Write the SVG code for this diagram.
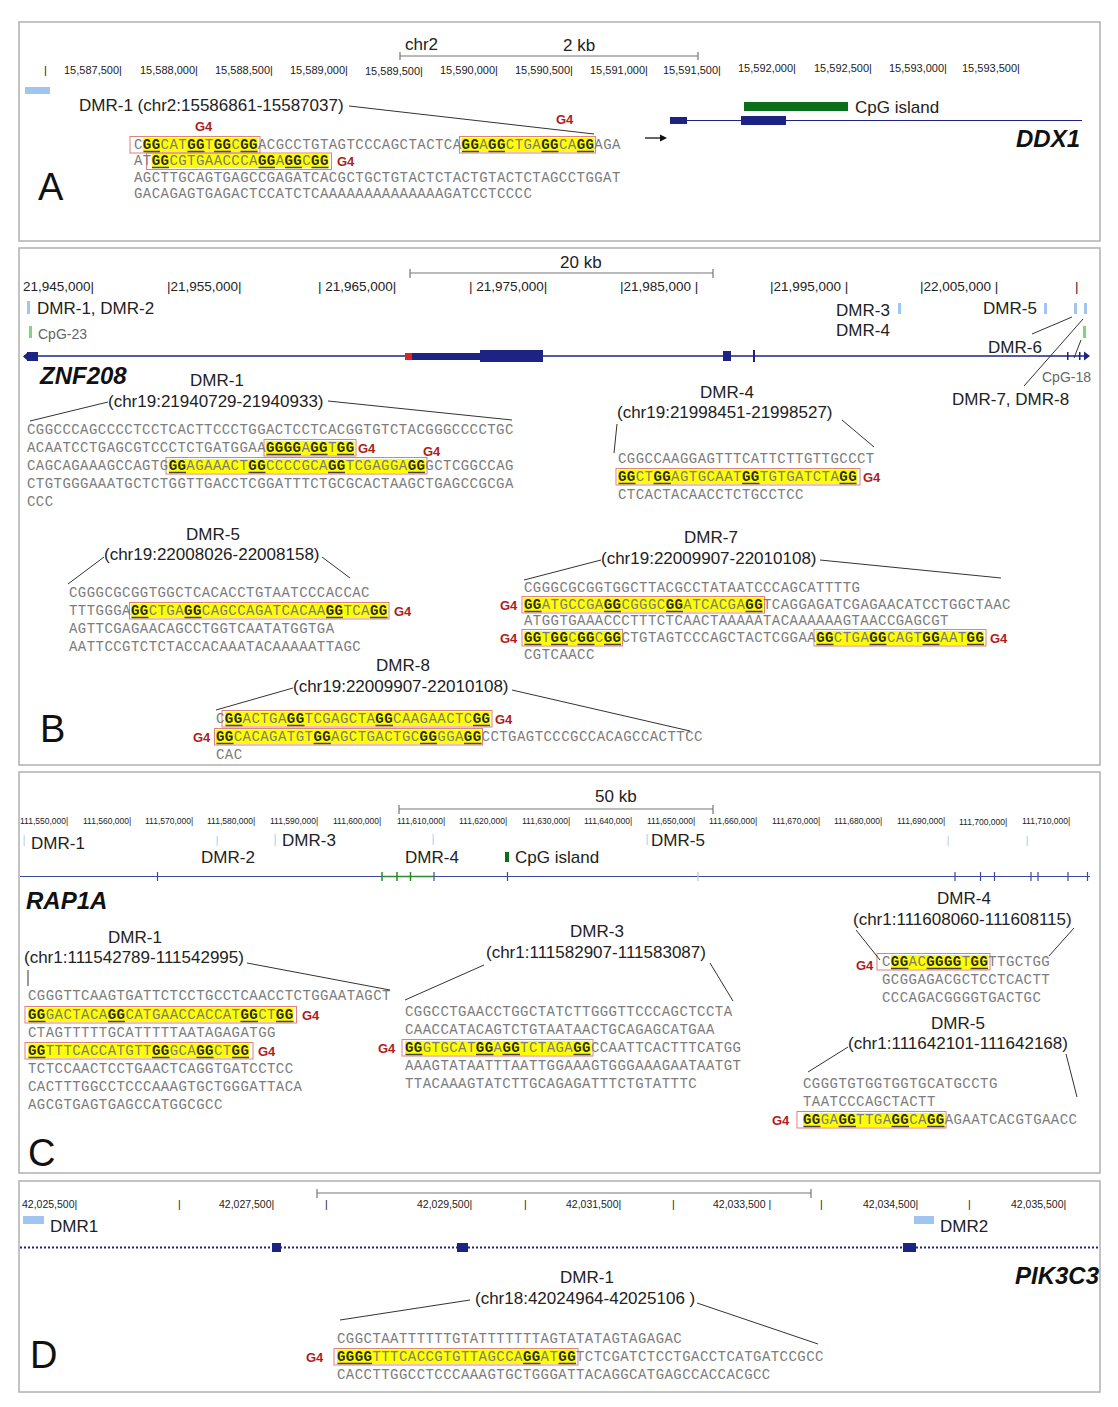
<svg xmlns="http://www.w3.org/2000/svg" width="1118" height="1407" viewBox="0 0 1118 1407">
<style>
.s{font-family:"Liberation Mono","DejaVu Sans Mono",monospace;font-size:14px;letter-spacing:0.45px;fill:#7c7c7c}
.g{font-weight:bold;fill:#2a2a2a}
.hl{fill:#ffff00}
.bx{fill:none;stroke:#e08080;stroke-width:1}
.ul{stroke:#444;stroke-width:1.6;fill:none}
.g4{font-family:"Liberation Sans",Arial,sans-serif;font-weight:bold;font-size:13px;fill:#b01c1c}
.lb{font-family:"Liberation Sans",Arial,sans-serif;font-size:17px;fill:#222}
.sm{font-family:"Liberation Sans",Arial,sans-serif;font-size:14px;fill:#666}
.big{font-family:"Liberation Sans",Arial,sans-serif;font-size:38px;fill:#111}
.gn{font-family:"Liberation Sans",Arial,sans-serif;font-size:24px;font-weight:bold;font-style:italic;fill:#111}
.ru{font-family:"Liberation Sans",Arial,sans-serif;fill:#222}
.ct{stroke:#333;stroke-width:1;fill:none}
.pn{fill:#fff;stroke:#b0b0b0;stroke-width:1.5}
.sb{stroke:#777;stroke-width:1.2;fill:none}
.nv{fill:#1c2383}
.lbt{fill:#9fc5f0}
</style>
<rect width="1118" height="1407" fill="#fff"/>

<!-- ===== Panel A ===== -->
<g id="panelA">
<rect class="pn" x="19" y="22" width="1081" height="219"/>
<text class="lb" x="405" y="50">chr2</text>
<text class="lb" x="563" y="51">2 kb</text>
<path class="sb" d="M400 56H698M400 52V60M698 52V60"/>
<g class="ru" font-size="11">
<text x="44" y="74">|</text>
<text x="64" y="74">15,587,500|</text>
<text x="140" y="74">15,588,000|</text>
<text x="215" y="74">15,588,500|</text>
<text x="290" y="74">15,589,000|</text>
<text x="365" y="75">15,589,500|</text>
<text x="440" y="74">15,590,000|</text>
<text x="515" y="74">15,590,500|</text>
<text x="590" y="74">15,591,000|</text>
<text x="663" y="74">15,591,500|</text>
<text x="738" y="72">15,592,000|</text>
<text x="814" y="72">15,592,500|</text>
<text x="889" y="72">15,593,000|</text>
<text x="962" y="72">15,593,500|</text>
</g>
<rect class="lbt" x="25" y="87" width="25" height="7"/>
<text class="lb" x="79" y="111">DMR-1 (chr2:15586861-15587037)</text>
<text class="big" x="38" y="200">A</text>
</g>

<g id="geneA">
<path d="M645 138H662" stroke="#111" stroke-width="1.3"/>
<path d="M660 134.5L667 138L660 141.5Z" fill="#111"/>
<path d="M670 120.5H1082" stroke="#1c2383" stroke-width="1.2"/>
<rect class="nv" x="670" y="117" width="17" height="7"/>
<rect class="nv" x="741" y="116" width="45" height="9"/>
<path d="M780 116L787 120.5L780 125Z" fill="#1c2383"/>
<rect x="744" y="102" width="104" height="9" fill="#0b6e1a"/>
<text class="lb" x="855" y="113">CpG island</text>
<text class="gn" x="1016" y="147">DDX1</text>
</g>

<g id="seqA">
<rect class="hl" x="142.85" y="138" width="115.05" height="14"/>
<rect class="hl" x="461.45" y="138" width="132.75" height="14"/>
<rect class="hl" x="151.7" y="154" width="177" height="14"/>
<rect class="bx" x="130" y="136.5" width="130" height="16.5"/>
<rect class="bx" x="459.5" y="136.5" width="136" height="16.5"/>
<rect class="bx" x="146.5" y="153" width="185" height="16.5"/>
<path class="ul" d="M143.5 151.5H160M187.5 151.5H204.5M214 151.5H231M240.5 151.5H257.5M462 151.5H479M488.5 151.5H505M541.5 151.5H558.5M577 151.5H594"/>
<path class="ul" d="M152 167.5H169M258.5 167.5H275M285 167.5H302M311.5 167.5H328.5"/>
<text class="s" x="134" y="149">C<tspan class="g">GG</tspan>CAT<tspan class="g">GG</tspan>T<tspan class="g">GG</tspan>C<tspan class="g">GG</tspan>ACGCCTGTAGTCCCAGCTACTCA<tspan class="g">GG</tspan>A<tspan class="g">GG</tspan>CTGA<tspan class="g">GG</tspan>CA<tspan class="g">GG</tspan>AGA</text>
<text class="s" x="134" y="165">AT<tspan class="g">GG</tspan>CGTGAACCCA<tspan class="g">GG</tspan>A<tspan class="g">GG</tspan>C<tspan class="g">GG</tspan></text>
<text class="s" x="134" y="182">AGCTTGCAGTGAGCCGAGATCACGCTGCTGTACTCTACTGTACTCTAGCCTGGAT</text>
<text class="s" x="134" y="198">GACAGAGTGAGACTCCATCTCAAAAAAAAAAAAAAGATCCTCCCC</text>
<text class="g4" x="195" y="131">G4</text>
<text class="g4" x="556" y="124">G4</text>
<text class="g4" x="337" y="166">G4</text>
</g>

<!-- ===== Panel B ===== -->
<g id="panelB">
<rect class="pn" x="19" y="248" width="1081" height="517"/>
<text class="lb" x="560" y="268">20 kb</text>
<path class="sb" d="M410 273H713M410 269V278M713 269V278"/>
<g class="ru" font-size="13.5">
<text x="23" y="291">21,945,000|</text>
<text x="167" y="291">|21,955,000|</text>
<text x="318" y="291">| 21,965,000|</text>
<text x="469" y="291">| 21,975,000|</text>
<text x="620" y="291">|21,985,000 |</text>
<text x="770" y="291">|21,995,000 |</text>
<text x="920" y="291">|22,005,000 |</text>
<text x="1075" y="291">|</text>
</g>
<rect class="lbt" x="27" y="301" width="3" height="13"/>
<rect class="lbt" x="898" y="303" width="3" height="11"/>
<rect class="lbt" x="1044" y="303" width="3" height="11"/>
<rect class="lbt" x="1074" y="303" width="3" height="11"/>
<rect class="lbt" x="1084" y="303" width="3" height="11"/>
<rect x="29" y="326" width="3" height="12" fill="#7fd67f"/>
<rect x="1083" y="326" width="3" height="12" fill="#7fd67f"/>
<text class="lb" x="37" y="314">DMR-1, DMR-2</text>
<text class="sm" x="38" y="339">CpG-23</text>
<text class="lb" x="836" y="316">DMR-3</text>
<text class="lb" x="836" y="336">DMR-4</text>
<text class="lb" x="983" y="314">DMR-5</text>
<text class="lb" x="988" y="353">DMR-6</text>
<text class="sm" x="1042" y="382">CpG-18</text>
<text class="lb" x="952" y="405">DMR-7, DMR-8</text>
<text class="big" x="40" y="742">B</text>
</g>

<g id="geneB">
<path d="M24 356H1086" stroke="#1c2383" stroke-width="1.5"/>
<rect class="nv" x="27" y="352" width="11" height="9"/>
<path d="M28 352L23 356.5L28 361Z" fill="#1c2383"/>
<rect x="405" y="353" width="7" height="7" fill="#e02020"/>
<rect class="nv" x="412" y="353" width="68" height="7"/>
<rect class="nv" x="480" y="350" width="63" height="12"/>
<rect class="nv" x="723" y="351" width="8" height="10"/>
<rect class="nv" x="753" y="350" width="2" height="12"/>
<rect class="nv" x="1067" y="352" width="1.5" height="8"/>
<rect class="nv" x="1079" y="352" width="1.5" height="8"/>
<path d="M1084 351.5L1090 356L1084 360.5Z" fill="#1c2383"/>
<text class="gn" x="40" y="384">ZNF208</text>
</g>

<g id="dmrB1">
<text class="lb" x="217" y="386" text-anchor="middle">DMR-1</text>
<text class="lb" x="108" y="407">(chr19:21940729-21940933)</text>
<rect class="hl" x="265.95" y="441" width="88.5" height="14"/>
<rect class="hl" x="168.6" y="459" width="256.65" height="14"/>
<rect class="bx" x="264" y="439.5" width="92" height="16.5"/>
<rect class="bx" x="166" y="457.5" width="261" height="16.5"/>
<path class="ul" d="M266.5 454.5H301M310.5 454.5H327.5M337 454.5H354"/>
<path class="ul" d="M169 472.5H186M248.5 472.5H265.5M328 472.5H345M408 472.5H425"/>
<text class="s" x="27" y="434">CGGCCCAGCCCCTCCTCACTTCCCTGGACTCCTCACGGTGTCTACGGGCCCCTGC</text>
<text class="s" x="27" y="452">ACAATCCTGAGCGTCCCTCTGATGGAA<tspan class="g">GGGG</tspan>A<tspan class="g">GG</tspan>T<tspan class="g">GG</tspan></text>
<text class="s" x="27" y="470">CAGCAGAAAGCCAGTG<tspan class="g">GG</tspan>AGAAACT<tspan class="g">GG</tspan>CCCCGCA<tspan class="g">GG</tspan>TCGAGGA<tspan class="g">GG</tspan>GCTCGGCCAG</text>
<text class="s" x="27" y="488">CTGTGGGAAATGCTCTGGTTGACCTCGGATTTCTGCGCACTAAGCTGAGCCGCGA</text>
<text class="s" x="27" y="506">CCC</text>
<text class="g4" x="358" y="453">G4</text>
<text class="g4" x="423" y="456">G4</text>
</g>

<g id="dmrB4">
<text class="lb" x="727" y="398" text-anchor="middle">DMR-4</text>
<text class="lb" x="617" y="418">(chr19:21998451-21998527)</text>
<rect class="hl" x="618" y="470" width="238.95" height="14"/>
<rect class="bx" x="616" y="468.5" width="244" height="16.5"/>
<path class="ul" d="M618.5 483.5H635.5M653.5 483.5H671M742 483.5H759.5M839.5 483.5H856.5"/>
<text class="s" x="618" y="463">CGGCCAAGGAGTTTCATTCTTGTTGCCCT</text>
<text class="s" x="618" y="481"><tspan class="g">GG</tspan>CT<tspan class="g">GG</tspan>AGTGCAAT<tspan class="g">GG</tspan>TGTGATCTA<tspan class="g">GG</tspan></text>
<text class="s" x="618" y="499">CTCACTACAACCTCTGCCTCC</text>
<text class="g4" x="863" y="482">G4</text>
</g>

<g id="dmrB5">
<text class="lb" x="213" y="540" text-anchor="middle">DMR-5</text>
<text class="lb" x="104" y="560">(chr19:22008026-22008158)</text>
<rect class="hl" x="130.95" y="604" width="256.65" height="14"/>
<rect class="bx" x="129.5" y="602.5" width="259.5" height="16.5"/>
<path class="ul" d="M131.5 617.5H148.5M184.5 617.5H201.5M326 617.5H343M370 617.5H387.5"/>
<text class="s" x="69" y="597">CGGGCGCGGTGGCTCACACCTGTAATCCCACCAC</text>
<text class="s" x="69" y="615">TTTGGGA<tspan class="g">GG</tspan>CTGA<tspan class="g">GG</tspan>CAGCCAGATCACAA<tspan class="g">GG</tspan>TCA<tspan class="g">GG</tspan></text>
<text class="s" x="69" y="633">AGTTCGAGAACAGCCTGGTCAATATGGTGA</text>
<text class="s" x="69" y="651">AATTCCGTCTCTACCACAAATACAAAAATTAGC</text>
<text class="g4" x="394" y="616">G4</text>
</g>

<g id="dmrB7">
<text class="lb" x="711" y="543" text-anchor="middle">DMR-7</text>
<text class="lb" x="601" y="564">(chr19:22009907-22010108)</text>
<rect class="hl" x="524" y="598" width="238.95" height="14"/>
<rect class="hl" x="524" y="631" width="97.35" height="14"/>
<rect class="hl" x="816.05" y="631" width="168.15" height="14"/>
<rect class="bx" x="522" y="596.5" width="242.5" height="16.5"/>
<rect class="bx" x="522" y="629.5" width="100.5" height="16.5"/>
<rect class="bx" x="814" y="629.5" width="172" height="16.5"/>
<path class="ul" d="M524.5 611.5H541.5M604 611.5H621M666 611.5H683M745.5 611.5H762.5"/>
<path class="ul" d="M524.5 644.5H541.5M551 644.5H568M577.5 644.5H594.5M604 644.5H621M816.5 644.5H833.5M869.5 644.5H886.5M922.5 644.5H939.5M967 644.5H984"/>
<text class="s" x="524" y="592">CGGGCGCGGTGGCTTACGCCTATAATCCCAGCATTTTG</text>
<text class="s" x="524" y="609"><tspan class="g">GG</tspan>ATGCCGA<tspan class="g">GG</tspan>CGGGC<tspan class="g">GG</tspan>ATCACGA<tspan class="g">GG</tspan>TCAGGAGATCGAGAACATCCTGGCTAAC</text>
<text class="s" x="524" y="625">ATGGTGAAACCCTTTCTCAACTAAAAATACAAAAAAGTAACCGAGCGT</text>
<text class="s" x="524" y="642"><tspan class="g">GG</tspan>T<tspan class="g">GG</tspan>C<tspan class="g">GG</tspan>C<tspan class="g">GG</tspan>CTGTAGTCCCAGCTACTCGGAA<tspan class="g">GG</tspan>CTGA<tspan class="g">GG</tspan>CAGT<tspan class="g">GG</tspan>AAT<tspan class="g">GG</tspan></text>
<text class="s" x="524" y="659">CGTCAACC</text>
<text class="g4" x="500" y="610">G4</text>
<text class="g4" x="500" y="643">G4</text>
<text class="g4" x="990" y="643">G4</text>
</g>

<g id="dmrB8">
<text class="lb" x="403" y="671" text-anchor="middle">DMR-8</text>
<text class="lb" x="293" y="692">(chr19:22009907-22010108)</text>
<rect class="hl" x="224.85" y="712" width="265.5" height="14"/>
<rect class="hl" x="216" y="730" width="265.5" height="14"/>
<rect class="bx" x="222" y="710.5" width="270" height="16.5"/>
<rect class="bx" x="214.5" y="728.5" width="268" height="16.5"/>
<path class="ul" d="M225.5 725.5H242.5M287 725.5H304.5M375.5 725.5H393M473 725.5H490"/>
<path class="ul" d="M216.5 743.5H233.5M313.5 743.5H331M420 743.5H437M464 743.5H481.5"/>
<text class="s" x="216" y="723">C<tspan class="g">GG</tspan>ACTGA<tspan class="g">GG</tspan>TCGAGCTA<tspan class="g">GG</tspan>CAAGAACTC<tspan class="g">GG</tspan></text>
<text class="s" x="216" y="741"><tspan class="g">GG</tspan>CACAGATGT<tspan class="g">GG</tspan>AGCTGACTGC<tspan class="g">GG</tspan>GGA<tspan class="g">GG</tspan>CCTGAGTCCCGCCACAGCCACTTCC</text>
<text class="s" x="216" y="759">CAC</text>
<text class="g4" x="495" y="724">G4</text>
<text class="g4" x="193" y="742">G4</text>
</g>

<!-- ===== Panel C ===== -->
<g id="panelC">
<rect class="pn" x="19" y="772" width="1081" height="401"/>
<text class="lb" x="595" y="802">50 kb</text>
<path class="sb" d="M399 809H713M399 805V814M713 805V814"/>
<g class="ru" font-size="8.5">
<text x="20" y="824">111,550,000|</text>
<text x="83" y="824">111,560,000|</text>
<text x="145" y="824">111,570,000|</text>
<text x="207" y="824">111,580,000|</text>
<text x="270" y="824">111,590,000|</text>
<text x="333" y="824">111,600,000|</text>
<text x="397" y="824">111,610,000|</text>
<text x="459" y="824">111,620,000|</text>
<text x="522" y="824">111,630,000|</text>
<text x="584" y="824">111,640,000|</text>
<text x="647" y="824">111,650,000|</text>
<text x="709" y="824">111,660,000|</text>
<text x="772" y="824">111,670,000|</text>
<text x="834" y="824">111,680,000|</text>
<text x="897" y="824">111,690,000|</text>
<text x="959" y="825">111,700,000|</text>
<text x="1022" y="824">111,710,000|</text>
</g>
<g fill="#c9def5">
<rect x="23.5" y="835" width="1.5" height="11"/>
<rect x="216.5" y="836" width="1.5" height="10"/>
<rect x="274.5" y="834" width="1.5" height="12"/>
<rect x="432.5" y="834" width="1.5" height="11"/>
<rect x="646.5" y="834" width="1.5" height="11"/>
<rect x="947.5" y="836" width="1.5" height="10"/>
<rect x="1026.5" y="836" width="1.5" height="10"/>
</g>
<text class="lb" x="31" y="849">DMR-1</text>
<text class="lb" x="201" y="863">DMR-2</text>
<text class="lb" x="282" y="846">DMR-3</text>
<text class="lb" x="405" y="863">DMR-4</text>
<rect x="505" y="852" width="4" height="10" fill="#0b6e1a"/>
<text class="lb" x="515" y="863">CpG island</text>
<text class="lb" x="651" y="846">DMR-5</text>
<text class="big" x="28" y="1166">C</text>
</g>

<g id="geneC">
<path d="M20 876.5H1090" stroke="#3b4aa0" stroke-width="1"/>
<path d="M382 876.5H434" stroke="#2a8a2a" stroke-width="1.5"/>
<path d="M157.5 872V881M434 872V881M507.5 872V881M955 872V881M980.5 872V881M994.5 872V881M1031 872V881M1038 872V881M1068 872V881M1087.5 872V881" stroke="#3b4aa0" stroke-width="1.2"/>
<path d="M382 872V881M397 872V881M410.5 872V881" stroke="#2a8a2a" stroke-width="1.5"/>
<path d="M698 872V881" stroke="#a8d8a8" stroke-width="1.2"/>
<text class="gn" x="26" y="909">RAP1A</text>
</g>

<g id="dmrC1">
<text class="lb" x="135" y="943" text-anchor="middle">DMR-1</text>
<text class="lb" x="24" y="963">(chr1:111542789-111542995)</text>
<rect class="hl" x="28" y="1008" width="265.5" height="14"/>
<rect class="hl" x="28" y="1044" width="221.25" height="14"/>
<rect class="bx" x="25" y="1006.5" width="271.5" height="16.5"/>
<rect class="bx" x="25" y="1042.5" width="228" height="16.5"/>
<path class="ul" d="M28.5 1021.5H45.5M108 1021.5H125M240.5 1021.5H258M276 1021.5H293.5"/>
<path class="ul" d="M28.5 1057.5H45.5M152 1057.5H169.5M196.5 1057.5H213.5M232 1057.5H249"/>
<text class="s" x="28" y="1000">CGGGTTCAAGTGATTCTCCTGCCTCAACCTCTGGAATAGCT</text>
<text class="s" x="28" y="1019"><tspan class="g">GG</tspan>GACTACA<tspan class="g">GG</tspan>CATGAACCACCAT<tspan class="g">GG</tspan>CT<tspan class="g">GG</tspan></text>
<text class="s" x="28" y="1037">CTAGTTTTTGCATTTTTAATAGAGATGG</text>
<text class="s" x="28" y="1055"><tspan class="g">GG</tspan>TTTCACCATGTT<tspan class="g">GG</tspan>GCA<tspan class="g">GG</tspan>CT<tspan class="g">GG</tspan></text>
<text class="s" x="28" y="1073">TCTCCAACTCCTGAACTCAGGTGATCCTCC</text>
<text class="s" x="28" y="1091">CACTTTGGCCTCCCAAAGTGCTGGGATTACA</text>
<text class="s" x="28" y="1109">AGCGTGAGTGAGCCATGGCGCC</text>
<text class="g4" x="302" y="1020">G4</text>
<text class="g4" x="258" y="1056">G4</text>
</g>

<g id="dmrC3">
<text class="lb" x="597" y="937" text-anchor="middle">DMR-3</text>
<text class="lb" x="486" y="958">(chr1:111582907-111583087)</text>
<rect class="hl" x="405" y="1041" width="185.85" height="14"/>
<rect class="bx" x="402" y="1039.5" width="191" height="16.5"/>
<path class="ul" d="M405.5 1054.5H422.5M476 1054.5H493.5M502.5 1054.5H520M573.5 1054.5H590.5"/>
<text class="s" x="405" y="1016">CGGCCTGAACCTGGCTATCTTGGGTTCCCAGCTCCTA</text>
<text class="s" x="405" y="1034">CAACCATACAGTCTGTAATAACTGCAGAGCATGAA</text>
<text class="s" x="405" y="1052"><tspan class="g">GG</tspan>GTGCAT<tspan class="g">GG</tspan>A<tspan class="g">GG</tspan>TCTAGA<tspan class="g">GG</tspan>CCAATTCACTTTCATGG</text>
<text class="s" x="405" y="1070">AAAGTATAATTTAATTGGAAAGTGGGAAAGAATAATGT</text>
<text class="s" x="405" y="1088">TTACAAAGTATCTTGCAGAGATTTCTGTATTTC</text>
<text class="g4" x="378" y="1053">G4</text>
</g>

<g id="dmrC4">
<text class="lb" x="964" y="904" text-anchor="middle">DMR-4</text>
<text class="lb" x="853" y="925">(chr1:111608060-111608115)</text>
<rect class="hl" x="890.85" y="955" width="97.35" height="14"/>
<rect class="bx" x="877" y="953.5" width="113" height="16.5"/>
<path class="ul" d="M891 968.5H908.5M926.5 968.5H961.5M970.5 968.5H988"/>
<text class="s" x="882" y="966">C<tspan class="g">GG</tspan>AC<tspan class="g">GGGG</tspan>T<tspan class="g">GG</tspan>TTGCTGG</text>
<text class="s" x="882" y="984">GCGGAGACGCTCCTCACTT</text>
<text class="s" x="882" y="1002">CCCAGACGGGGTGACTGC</text>
<text class="g4" x="856" y="970">G4</text>
</g>

<g id="dmrC5">
<text class="lb" x="958" y="1029" text-anchor="middle">DMR-5</text>
<text class="lb" x="848" y="1049">(chr1:111642101-111642168)</text>
<rect class="hl" x="803" y="1113" width="141.6" height="14"/>
<rect class="bx" x="797" y="1111.5" width="149" height="16.5"/>
<path class="ul" d="M803.5 1126.5H820.5M838.5 1126.5H856M891.5 1126.5H909M927 1126.5H944.5"/>
<text class="s" x="803" y="1088">CGGGTGTGGTGGTGCATGCCTG</text>
<text class="s" x="803" y="1106">TAATCCCAGCTACTT</text>
<text class="s" x="803" y="1124"><tspan class="g">GG</tspan>GA<tspan class="g">GG</tspan>TTGA<tspan class="g">GG</tspan>CA<tspan class="g">GG</tspan>AGAATCACGTGAACC</text>
<text class="g4" x="772" y="1125">G4</text>
</g>

<!-- ===== Panel D ===== -->
<g id="panelD">
<rect class="pn" x="19" y="1181" width="1081" height="211"/>
<path class="sb" d="M317 1193H811M317 1189V1198M811 1189V1198"/>
<g class="ru" font-size="10.5">
<text x="22" y="1208">42,025,500|</text>
<text x="178" y="1208">|</text>
<text x="219" y="1208">42,027,500|</text>
<text x="325" y="1208">|</text>
<text x="417" y="1208">42,029,500|</text>
<text x="524" y="1208">|</text>
<text x="566" y="1208">42,031,500|</text>
<text x="672" y="1208">|</text>
<text x="713" y="1208">42,033,500 |</text>
<text x="820" y="1208">|</text>
<text x="863" y="1208">42,034,500|</text>
<text x="968" y="1208">|</text>
<text x="1011" y="1208">42,035,500|</text>
</g>
<rect class="lbt" x="23" y="1216" width="21" height="8"/>
<rect class="lbt" x="914" y="1216" width="20" height="8"/>
<text class="lb" x="50" y="1232">DMR1</text>
<text class="lb" x="940" y="1232">DMR2</text>
<text class="big" x="30" y="1368">D</text>
</g>

<g id="geneD">
<path d="M20 1247.5H1100" stroke="#1c2383" stroke-width="2" stroke-dasharray="2 2"/>
<rect class="nv" x="272" y="1243" width="9" height="9"/>
<rect class="nv" x="457" y="1243" width="11" height="9"/>
<rect class="nv" x="903" y="1243" width="13" height="9"/>
<text class="gn" x="1015" y="1284" font-size="22">PIK3C3</text>
</g>

<g id="dmrD1">
<text class="lb" x="587" y="1283" text-anchor="middle">DMR-1</text>
<text class="lb" x="475" y="1304">(chr18:42024964-42025106 )</text>
<rect class="hl" x="337" y="1350" width="238.95" height="14"/>
<rect class="bx" x="334" y="1348.5" width="244" height="16.5"/>
<path class="ul" d="M337.5 1363.5H372M523 1363.5H540.5M558.5 1363.5H576"/>
<text class="s" x="337" y="1343">CGGCTAATTTTTTGTATTTTTTTAGTATATAGTAGAGAC</text>
<text class="s" x="337" y="1361"><tspan class="g">GGGG</tspan>TTTCACCGTGTTAGCCA<tspan class="g">GG</tspan>AT<tspan class="g">GG</tspan>TCTCGATCTCCTGACCTCATGATCCGCC</text>
<text class="s" x="337" y="1379">CACCTTGGCCTCCCAAAGTGCTGGGATTACAGGCATGAGCCACCACGCC</text>
<text class="g4" x="306" y="1362">G4</text>
</g>

<!-- ===== Connectors ===== -->
<g id="connectors" class="ct">
<path d="M349 106L594 134"/>
<path d="M108 402L30 421"/>
<path d="M328 401L512 420"/>
<path d="M617 424L614 453"/>
<path d="M842 420L874 447"/>
<path d="M104 557L68 584"/>
<path d="M322 557L350 578"/>
<path d="M601 560L524 580"/>
<path d="M820 560L1001 578"/>
<path d="M293 688L216 710"/>
<path d="M512 690L690 731"/>
<path d="M1032 334L1072 317"/>
<path d="M1024 386L1083 319"/>
<path d="M1074 358L1081 340"/>
<path d="M28 970V986"/>
<path d="M247 963L390 990"/>
<path d="M484 965L405 1000"/>
<path d="M710 963L733 1001"/>
<path d="M856 930L880 960"/>
<path d="M1074 928L1049 956"/>
<path d="M848 1047L808 1072"/>
<path d="M1066 1054L1077 1097"/>
<path d="M470 1300L340 1320"/>
<path d="M697 1303L818 1344"/>
</g>
</svg>
